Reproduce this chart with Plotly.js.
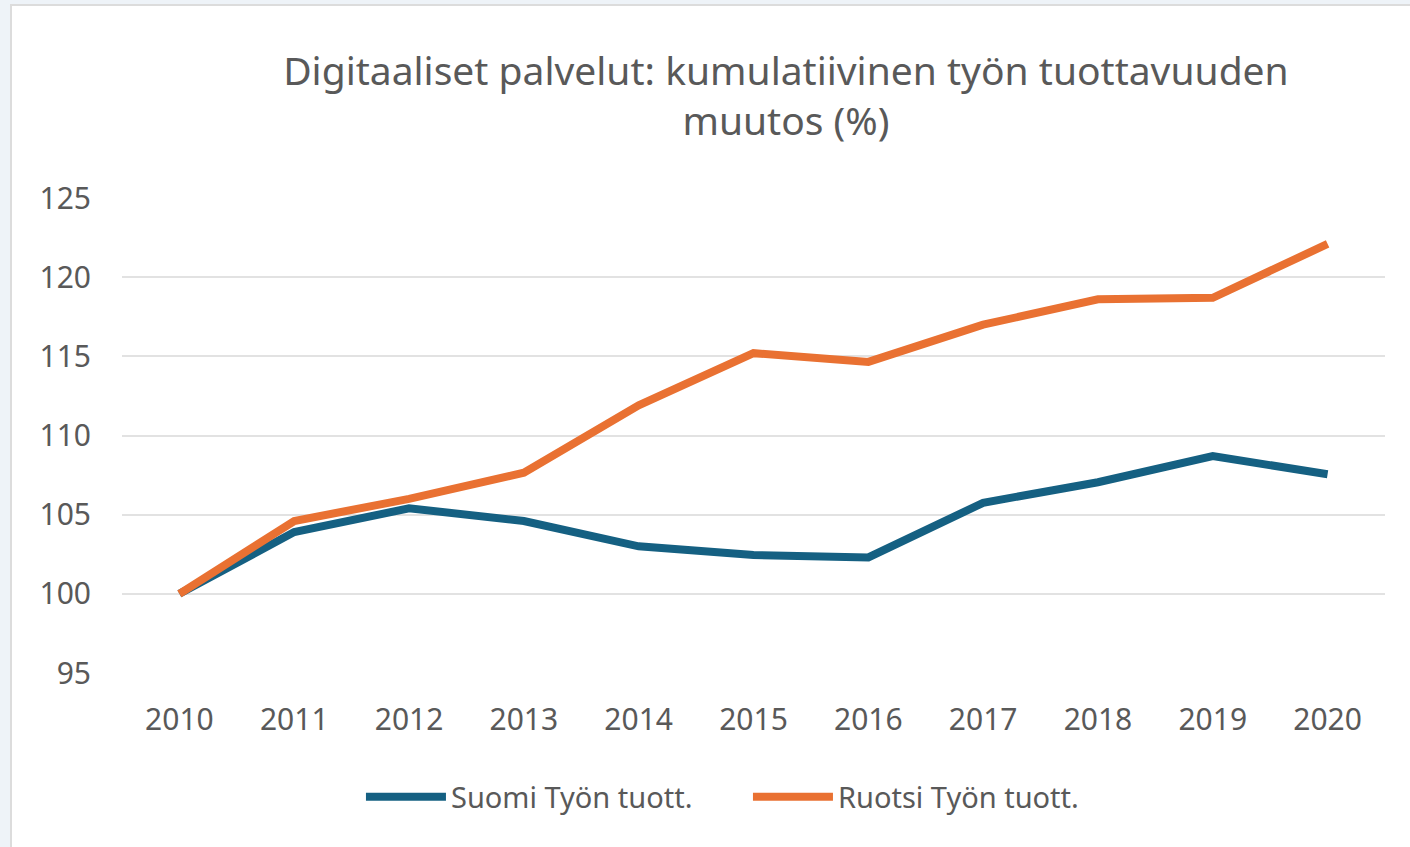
<!DOCTYPE html>
<html>
<head>
<meta charset="utf-8">
<script src="https://cdn.plot.ly/plotly-3.0.1.min.js"></script>
<style>
  html, body { margin: 0; padding: 0; background: #eef3f8; width: 1410px; height: 847px; overflow: hidden; }
  #card { position: absolute; left: 10px; top: 4px; width: 1410px; height: 850px; background: #ffffff;
          border-left: 2px solid #dcdcdc; border-top: 2px solid #dcdcdc; }
  #chart { position: absolute; left: 12px; top: 6px; width: 1398px; height: 841px; }
</style>
</head>
<body>
<div id="card"></div>
<div id="chart"></div>
<script>
const years = ['2010','2011','2012','2013','2014','2015','2016','2017','2018','2019','2020'];
const suomi = [100, 103.9, 105.4, 104.6, 103.0, 102.45, 102.3, 105.75, 107.05, 108.7, 107.55];
const ruotsi = [100, 104.6, 106.0, 107.65, 111.9, 115.2, 114.65, 117.0, 118.6, 118.7, 122.1];
const seriesNames = ['Suomi Työn tuott.', 'Ruotsi Työn tuott.'];
const yTicks = [95, 100, 105, 110, 115, 120, 125];
const titleText = 'Digitaaliset palvelut: kumulatiivinen työn tuottavuuden<br>muutos (%)';

const FONT = 'Noto Sans, Open Sans, sans-serif';
const TXT = '#595959';

const traces = [
  { x: years, y: suomi, name: seriesNames[0], type: 'scatter', mode: 'lines',
    line: { color: '#156082', width: 8, shape: 'linear' }, hoverinfo: 'x+y+name' },
  { x: years, y: ruotsi, name: seriesNames[1], type: 'scatter', mode: 'lines',
    line: { color: '#E97132', width: 8, shape: 'linear' }, hoverinfo: 'x+y+name' }
];

const layout = {
  width: 1398, height: 841,
  paper_bgcolor: 'rgba(0,0,0,0)', plot_bgcolor: 'rgba(0,0,0,0)',
  margin: { l: 110, r: 25, t: 192, b: 174 },
  font: { family: FONT, color: TXT, size: 30 },
  title: {
    text: titleText,
    font: { family: FONT, size: 39, color: TXT },
    xref: 'container', x: 0.5536, xanchor: 'center',
    yref: 'container', y: 0.9064, yanchor: 'top'
  },
  xaxis: {
    type: 'category', range: [-0.5, 10.5],
    showgrid: false, zeroline: false, showline: false,
    ticks: 'outside', ticklen: 20, tickcolor: 'rgba(0,0,0,0)',
    tickfont: { family: FONT, size: 30, color: TXT },
    fixedrange: true
  },
  yaxis: {
    range: [95, 125], tickvals: yTicks,
    showgrid: true, gridcolor: '#e2e2e2', gridwidth: 2,
    zeroline: false, showline: false,
    ticks: 'outside', ticklen: 24, tickcolor: 'rgba(0,0,0,0)',
    tickfont: { family: FONT, size: 30, color: TXT },
    fixedrange: true
  },
  showlegend: true,
  legend: {
    orientation: 'h', x: 0.1892, xanchor: 'left', y: -0.261, yanchor: 'middle',
    font: { family: FONT, size: 29, color: TXT },
    bgcolor: 'rgba(0,0,0,0)', itemwidth: 80,
    entrywidth: 292, entrywidthmode: 'pixels'
  }
};

Plotly.newPlot('chart', traces, layout, { displayModeBar: false, staticPlot: true });
</script>
</body>
</html>
